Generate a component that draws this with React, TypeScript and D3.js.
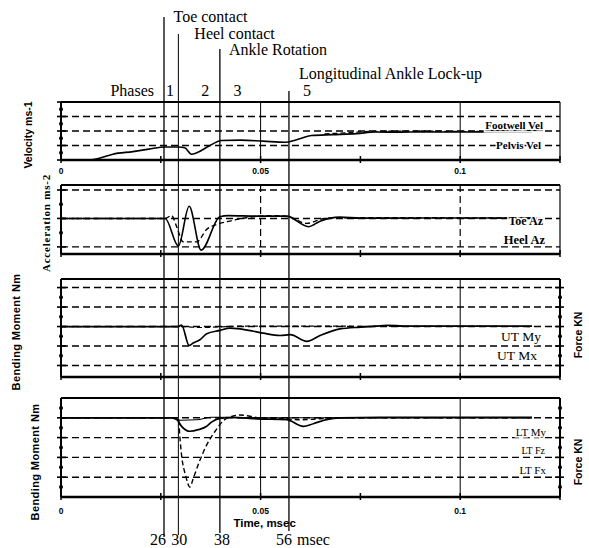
import React from "react";
import * as d3 from "d3";

type Pt = [number, number];

// ---------- data ----------
const xTickValues = [0, 0.025, 0.05, 0.075, 0.1, 0.125];
const xLabelValues = [0, 0.05, 0.1];
const xLabelTexts = ["0", "0.05", "0.1"];
const phaseLineTimes = [0.0258, 0.0294, 0.0398, 0.0571];
const phaseLineLabels = ["26", "30", "38", "56"];
const eventNames = ["Toe contact", "Heel contact", "Ankle Rotation", "Longitudinal Ankle Lock-up"];
const phaseNumbers = ["1", "2", "3", "5"];

const footwellVel: Pt[] = [
  [0, 0], [0.0073, 0], [0.01, 0.15], [0.013, 0.4], [0.018, 0.58], [0.022, 0.75], [0.0261, 0.9],
  [0.0295, 0.9], [0.031, 0.84], [0.0327, 0.4], [0.034, 0.5], [0.037, 0.95], [0.0402, 1.35],
  [0.045, 1.37], [0.0506, 1.3], [0.0562, 1.22], [0.059, 1.4], [0.0628, 1.69], [0.068, 1.75],
  [0.0741, 1.82], [0.0788, 1.93], [0.085, 1.92], [0.09, 1.94], [0.1, 1.93], [0.11, 1.95], [0.118, 1.95],
];
const pelvisVel: Pt[] = [
  [0.066, 1.8], [0.072, 1.88], [0.078, 1.97], [0.085, 1.99], [0.09, 2.0], [0.1, 1.97], [0.11, 1.98], [0.118, 1.98],
];
const toeAz: Pt[] = [
  [0, 0], [0.0261, 0], [0.0294, -1.93], [0.0321, 0.86], [0.0351, -2.23], [0.0398, 0.12], [0.0419, 0.2],
  [0.049, 0.16], [0.0565, 0.16], [0.062, -0.58], [0.0649, -0.19], [0.0699, 0.09], [0.075, 0.02],
  [0.09, 0.03], [0.118, 0.03],
];
const heelAz: Pt[] = [
  [0, 0], [0.0261, 0], [0.0277, 0.2], [0.029, -0.6], [0.0306, -1.65], [0.034, -1.65], [0.0365, -0.77],
  [0.039, -0.42], [0.0423, -0.19], [0.0448, -0.02], [0.0531, 0.2], [0.057, 0.12], [0.0615, -0.35],
  [0.066, 0.0], [0.07, 0.05], [0.118, 0.03],
];
const utMy: Pt[] = [
  [0, 0], [0.0294, 0], [0.0302, 0.08], [0.0321, -0.97], [0.0331, -0.85], [0.0348, -0.68], [0.0365, -0.37],
  [0.0398, -0.2], [0.0423, -0.08], [0.0448, -0.12], [0.0482, -0.24], [0.0507, -0.34], [0.0549, -0.46],
  [0.0574, -0.42], [0.0616, -0.76], [0.0649, -0.46], [0.0699, -0.12], [0.075, -0.03], [0.0788, 0.02],
  [0.0817, 0.06], [0.088, 0.02], [0.118, 0.02],
];
const utMx: Pt[] = [[0, 0], [0.03, 0], [0.035, -0.05], [0.045, 0.02], [0.118, 0]];
const ltMy: Pt[] = [
  [0, 0], [0.0277, 0], [0.029, -0.09], [0.0302, -0.43], [0.0323, -0.68], [0.0344, -0.6], [0.0365, -0.43],
  [0.0377, -0.22], [0.0398, -0.03], [0.043, 0.02], [0.049, -0.05], [0.0565, -0.09], [0.0607, -0.43],
  [0.0632, -0.3], [0.0665, -0.09], [0.0699, 0], [0.08, 0.02], [0.118, 0.02],
];
const ltFz: Pt[] = [
  [0, 0], [0.0277, 0], [0.03, -0.12], [0.034, -0.1], [0.0377, 0.03], [0.0398, 0.03], [0.045, 0], [0.118, 0],
];
const ltFx: Pt[] = [
  [0, 0], [0.0294, 0], [0.0298, -1.03], [0.0302, -1.88], [0.0312, -2.9], [0.0323, -3.5], [0.0331, -3.08],
  [0.0348, -2.14], [0.0365, -1.37], [0.0386, -0.68], [0.0407, -0.14], [0.0432, 0.09], [0.0448, 0.14],
  [0.0498, 0], [0.0531, -0.03], [0.0565, -0.05], [0.06, -0.1], [0.065, -0.05], [0.07, 0], [0.118, 0],
];

// ---------- layout ----------
const W = 589, H = 548;
const x = d3.scaleLinear().domain([0, 0.125]).range([61, 560]);

interface Series { data: Pt[]; dashed?: boolean; width?: number }
interface Label { text: string; v: number; end: number; size: number; weight: number; underline?: boolean }
interface Panel {
  top: number; bottom: number; domain: [number, number];
  grid: number[]; vDashed: boolean; ticks: number[]; minor: number[]; right: boolean;
  series: Series[]; labels: Label[]; xLabels?: number;
}

const range = (a: number, b: number, s: number) => d3.range(a, b + s / 2, s);

const panels: Panel[] = [
  {
    top: 102, bottom: 160, domain: [0, 4], grid: [1, 2, 3], vDashed: false,
    ticks: [0, 1, 2, 3, 4], minor: range(0.5, 3.5, 1), right: false,
    series: [{ data: footwellVel, width: 1.6 }, { data: pelvisVel, dashed: true, width: 1.3 }],
    labels: [
      { text: "Footwell Vel", v: 2.14, end: 543, size: 11, weight: 700, underline: true },
      { text: "Pelvis Vel", v: 0.76, end: 541, size: 11, weight: 700 },
    ],
    xLabels: 174,
  },
  {
    top: 185, bottom: 254, domain: [-2.5, 2.35], grid: [-2, 0, 2], vDashed: true,
    ticks: [-2, 0, 2], minor: [-1, 1], right: false,
    series: [{ data: toeAz, width: 1.6 }, { data: heelAz, dashed: true, width: 1.4 }],
    labels: [
      { text: "Toe Az", v: -0.47, end: 543, size: 12, weight: 700 },
      { text: "Heel Az", v: -1.8, end: 545, size: 12.5, weight: 700 },
    ],
  },
  {
    top: 279, bottom: 377, domain: [-2.59, 2.44], grid: [-2, -1, 0, 1, 2], vDashed: false,
    ticks: [-2, -1, 0, 1, 2], minor: range(-1.5, 1.5, 1), right: true,
    series: [{ data: utMx, dashed: true, width: 1.2 }, { data: utMy, width: 1.7 }],
    labels: [
      { text: "UT My", v: -0.74, end: 541, size: 13.5, weight: 400 },
      { text: "UT Mx", v: -1.72, end: 537, size: 13.5, weight: 400 },
    ],
  },
  {
    top: 398, bottom: 497, domain: [-4, 1], grid: [-3, -2, -1, 0], vDashed: false,
    ticks: [-3, -2, -1, 0], minor: range(-3.5, 0.5, 1), right: true,
    series: [{ data: ltFz, width: 1.1 }, { data: ltFx, dashed: true, width: 1.4 }, { data: ltMy, width: 1.7 }],
    labels: [
      { text: "LT My", v: -0.91, end: 546, size: 11, weight: 400 },
      { text: "LT Fz", v: -1.82, end: 545, size: 10, weight: 400 },
      { text: "LT Fx", v: -2.83, end: 546, size: 11, weight: 400 },
    ],
    xLabels: 514,
  },
];

const serif = "'Liberation Serif', 'Times New Roman', serif";
const sans = "'Liberation Sans', Arial, sans-serif";

function PanelView({ p }: { p: Panel }) {
  const y = d3.scaleLinear().domain(p.domain).range([p.bottom, p.top]);
  const line = d3.line<Pt>().x(d => x(d[0])).y(d => y(d[1])).curve(d3.curveMonotoneX);
  const [x0, x1] = x.range();
  return (
    <g>
      {p.grid.map((g, i) => (
        <line key={"g" + i} x1={x0} x2={x1} y1={y(g)} y2={y(g)} stroke="#000" strokeWidth={1.4} strokeDasharray="7,4" />
      ))}
      {[0.05, 0.1].map((t, i) => (
        <line key={"v" + i} x1={x(t)} x2={x(t)} y1={p.top} y2={p.bottom} stroke="#000"
          strokeWidth={p.vDashed ? 1.2 : 1} strokeDasharray={p.vDashed ? "7,4" : undefined} />
      ))}
      {p.series.map((s, i) => (
        <path key={"s" + i} d={line(s.data) || ""} fill="none" stroke="#000" strokeWidth={s.width || 1.5}
          strokeDasharray={s.dashed ? "5,3" : undefined} strokeLinejoin="round" />
      ))}
      {p.labels.map((l, i) => (
        <text key={"l" + i} x={l.end} y={y(l.v)} textAnchor="end" fontFamily={serif} fontSize={l.size}
          fontWeight={l.weight} stroke="#fff" strokeWidth={3} paintOrder="stroke" fill="#000"
          textDecoration={l.underline ? "underline" : undefined}>{l.text}</text>
      ))}
      {/* frame */}
      <line x1={x0} x2={x0} y1={p.top} y2={p.bottom} stroke="#000" strokeWidth={2} />
      <line x1={x1} x2={x1} y1={p.top} y2={p.bottom} stroke="#000" strokeWidth={p.right ? 2 : 1.2} />
      <line x1={x0} x2={x1} y1={p.top} y2={p.top} stroke="#000" strokeWidth={2.2} />
      <line x1={x0} x2={x1} y1={p.bottom} y2={p.bottom} stroke="#000" strokeWidth={2.4} />
      {p.ticks.map((t, i) => (
        <line key={"t" + i} x1={x0 - 4} x2={x0 + 5} y1={y(t)} y2={y(t)} stroke="#000" strokeWidth={1.6} />
      ))}
      {p.minor.map((t, i) => (
        <circle key={"m" + i} cx={x0} cy={y(t)} r={2} fill="#000" />
      ))}
      {p.right && p.ticks.map((t, i) => (
        <line key={"rt" + i} x1={x1 - 5} x2={x1 + 4} y1={y(t)} y2={y(t)} stroke="#000" strokeWidth={1.6} />
      ))}
      {p.right && p.minor.map((t, i) => (
        <circle key={"rm" + i} cx={x1} cy={y(t)} r={2} fill="#000" />
      ))}
      {xTickValues.map((t, i) => (
        <line key={"xt" + i} x1={x(t)} x2={x(t)} y1={p.bottom - 4} y2={p.bottom + 3} stroke="#000" strokeWidth={1.5} />
      ))}
      {p.xLabels !== undefined && xLabelValues.map((t, i) => (
        <text key={"xl" + i} x={x(t)} y={p.xLabels} textAnchor="middle" fontFamily={sans} fontSize={8.5}
          fontWeight={700}>{xLabelTexts[i]}</text>
      ))}
    </g>
  );
}

const lineTops = [17, 34, 49, 91];
const lineBottoms = [537, 535, 533, 531];
const eventDx = [9.5, 16, 9, 10];
const eventBase = [22, 39, 55, 79];
const phaseDx = [6, 27, 17.5, 18];
const bottomDx = [-6, 1, 2, -5];

function RotText({ x: cx, y: cy, text, size, family, weight, spacing }:
  { x: number; y: number; text: string; size: number; family: string; weight: number; spacing?: number }) {
  return (
    <text transform={`translate(${cx},${cy}) rotate(-90)`} textAnchor="middle" dominantBaseline="central"
      fontFamily={family} fontSize={size} fontWeight={weight} letterSpacing={spacing || 0}>{text}</text>
  );
}

export default function App() {
  return (
    <svg width={W} height={H} viewBox={`0 0 ${W} ${H}`}
      style={{ position: "absolute", left: 0, top: 0, background: "#fff" }}>
      <rect x={0} y={0} width={W} height={H} fill="#fff" />
      {panels.map((p, i) => <PanelView key={i} p={p} />)}

      {/* phase lines */}
      {phaseLineTimes.map((t, i) => (
        <line key={"pl" + i} x1={x(t)} x2={x(t)} y1={lineTops[i]} y2={lineBottoms[i]} stroke="#000"
          strokeWidth={i === 1 ? 1 : 1.3} />
      ))}
      {eventNames.map((n, i) => (
        <text key={"ev" + i} x={x(phaseLineTimes[i]) + eventDx[i]} y={eventBase[i]} fontFamily={serif} fontSize={16}>{n}</text>
      ))}
      <text x={154} y={96} textAnchor="end" fontFamily={serif} fontSize={16}>Phases</text>
      {phaseNumbers.map((n, i) => (
        <text key={"pn" + i} x={x(phaseLineTimes[i]) + phaseDx[i]} y={96} textAnchor="middle" fontFamily={serif} fontSize={16}>{n}</text>
      ))}
      {phaseLineLabels.map((n, i) => (
        <text key={"bl" + i} x={x(phaseLineTimes[i]) + bottomDx[i]} y={545} textAnchor="middle" fontFamily={serif} fontSize={16}>{n}</text>
      ))}
      <text x={297} y={545} fontFamily={serif} fontSize={16}>msec</text>

      {/* axis titles */}
      <RotText x={28} y={135} text="Velocity ms-1" size={10.5} family={sans} weight={700} />
      <RotText x={46} y={223} text="Acceleration ms-2" size={11} family={serif} weight={700} spacing={0.8} />
      <RotText x={15.5} y={332} text="Bending Moment Nm" size={11} family={sans} weight={700} spacing={0.4} />
      <RotText x={35} y={462} text="Bending Moment Nm" size={11} family={sans} weight={700} spacing={0.4} />
      <RotText x={578} y={335} text="Force KN" size={10.5} family={sans} weight={700} />
      <RotText x={578} y={462} text="Force KN" size={10.5} family={sans} weight={700} />
      <text x={x(0.05) + 4} y={527} textAnchor="middle" fontFamily={sans} fontSize={11.5} fontWeight={700}>Time, msec</text>
    </svg>
  );
}
